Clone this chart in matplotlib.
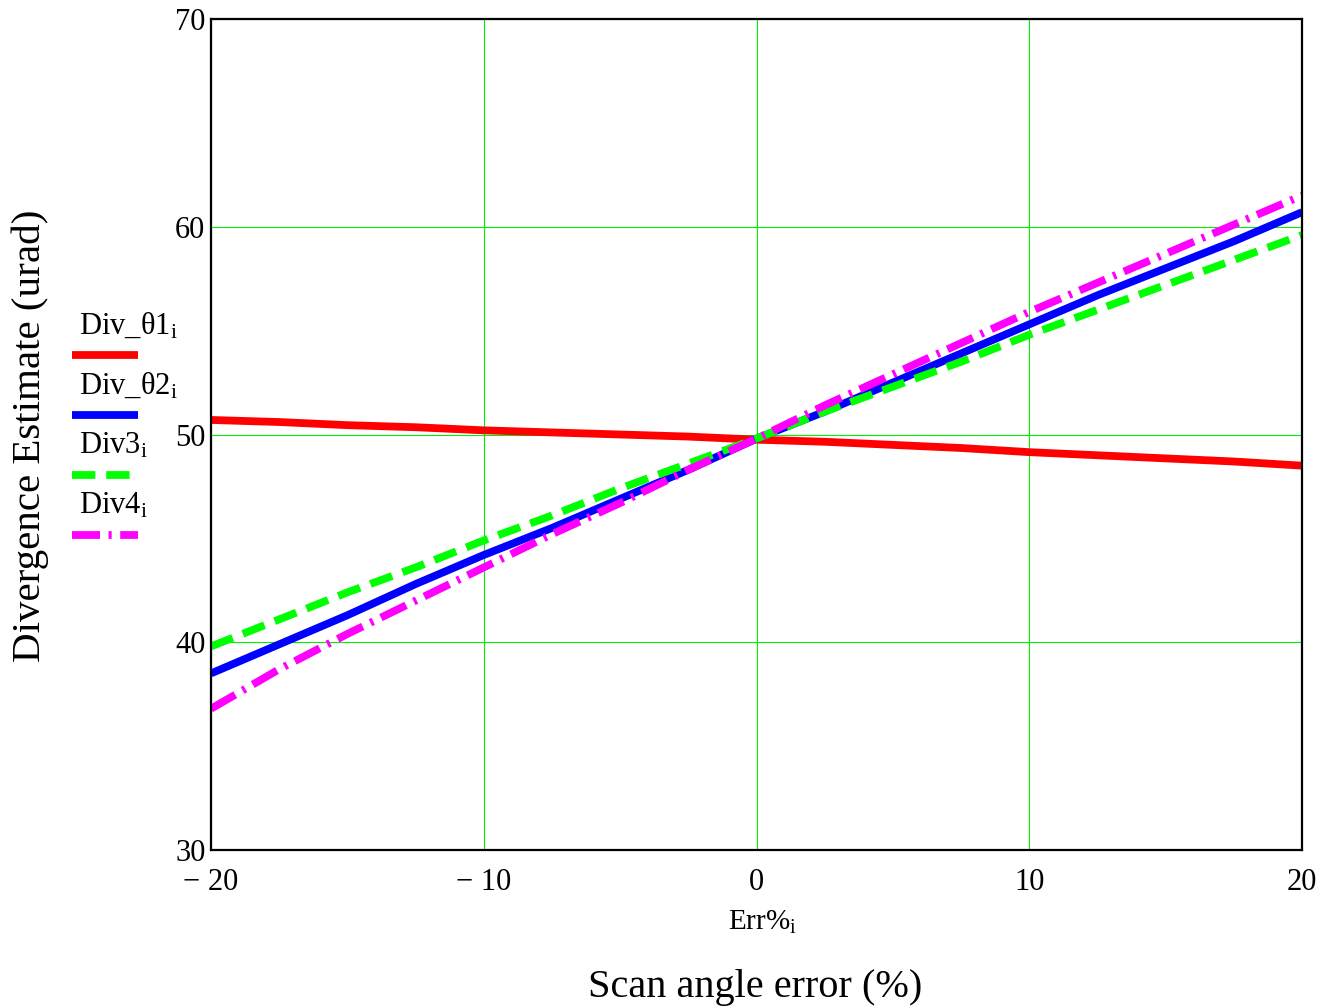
import matplotlib

matplotlib.use("Agg")
import matplotlib.pyplot as plt
from matplotlib.lines import Line2D

plt.rcParams["font.family"] = ["Liberation Serif", "DejaVu Serif"]
plt.rcParams["mathtext.fontset"] = "custom"
plt.rcParams["mathtext.rm"] = "Liberation Serif"
plt.rcParams["mathtext.it"] = "Liberation Serif"

# scan angle error (%)
err_pct = [-20, -17.5, -15, -12.5, -10, -7.5, -5, -2.5, 0,
           2.5, 5, 7.5, 10, 12.5, 15, 17.5, 20]

# divergence estimates (urad)
div_theta1 = [50.7, 50.6, 50.45, 50.35, 50.2, 50.1, 50.0, 49.9, 49.75,
              49.65, 49.5, 49.35, 49.15, 49.0, 48.85, 48.7, 48.5]
div_theta2 = [38.5, 39.9, 41.3, 42.8, 44.2, 45.5, 46.9, 48.3, 49.8,
              51.1, 52.5, 53.9, 55.3, 56.7, 58.0, 59.3, 60.7]
div3 = [39.8, 41.1, 42.4, 43.6, 44.9, 46.1, 47.4, 48.6, 49.8,
        51.1, 52.3, 53.5, 54.8, 56.0, 57.2, 58.4, 59.6]
div4 = [36.8, 38.7, 40.4, 42.0, 43.6, 45.2, 46.7, 48.3, 49.8,
        51.4, 52.9, 54.4, 55.9, 57.3, 58.7, 60.1, 61.5]

x_ticks = [-20, -10, 0, 10, 20]
x_tick_labels = ["\u2212 20", "\u2212 10", "0", "10", "20"]
y_ticks = [30, 40, 50, 60, 70]

series = [
    ("Div_\u03b81$_\\mathrm{i}$", div_theta1, "#ff0000", "-"),
    ("Div_\u03b82$_\\mathrm{i}$", div_theta2, "#0000ff", "-"),
    ("Div3$_\\mathrm{i}$", div3, "#00ff00", (0, (3.0, 1.4))),
    ("Div4$_\\mathrm{i}$", div4, "#ff00ff", (0, (3.6, 1.1, 0.4, 1.1))),
]

W, H = 1330, 1007


def fx(px):
    return px / W


def fy(py):
    return 1 - py / H


fig = plt.figure(figsize=(W / 100, H / 100), dpi=100)
ax = fig.add_axes([fx(211), fy(850), fx(1302) - fx(211), fy(19) - fy(850)])

for label, values, color, style in series:
    ax.plot(err_pct, values, color=color, linestyle=style, linewidth=5.6,
            solid_capstyle="butt", dash_capstyle="butt")

ax.set_xlim(-20, 20)
ax.set_ylim(30, 70)
ax.set_xticks(x_ticks)
ax.set_xticklabels(x_tick_labels)
ax.set_yticks(y_ticks)
ax.grid(True, color="#00ee00", linewidth=0.8)
ax.tick_params(length=0, labelsize=22)
ax.tick_params(axis="x", pad=13)
ax.tick_params(axis="y", pad=4)
for spine in ax.spines.values():
    spine.set_linewidth(1.6)

fig.text(fx(762), fy(922), "Err%$_\\mathrm{i}$", ha="center", va="center",
         fontsize=21)
fig.text(fx(755), fy(987), "Scan angle error (%)", ha="center",
         va="center", fontsize=29)
fig.text(fx(30), fy(436), "Divergence Estimate (urad)", ha="center",
         va="center", rotation=90, fontsize=29.5)

# legend drawn at the left, outside the axes
for k, (label, values, color, style) in enumerate(series):
    top = 326 + 60 * k
    fig.text(fx(79), fy(top), label, ha="left", va="center", fontsize=22)
    fig.add_artist(Line2D([fx(72), fx(138)], [fy(top + 29), fy(top + 29)],
                          transform=fig.transFigure, color=color,
                          linestyle=style, linewidth=5.6,
                          solid_capstyle="butt", dash_capstyle="butt"))

fig.savefig("out.png", dpi=100)
